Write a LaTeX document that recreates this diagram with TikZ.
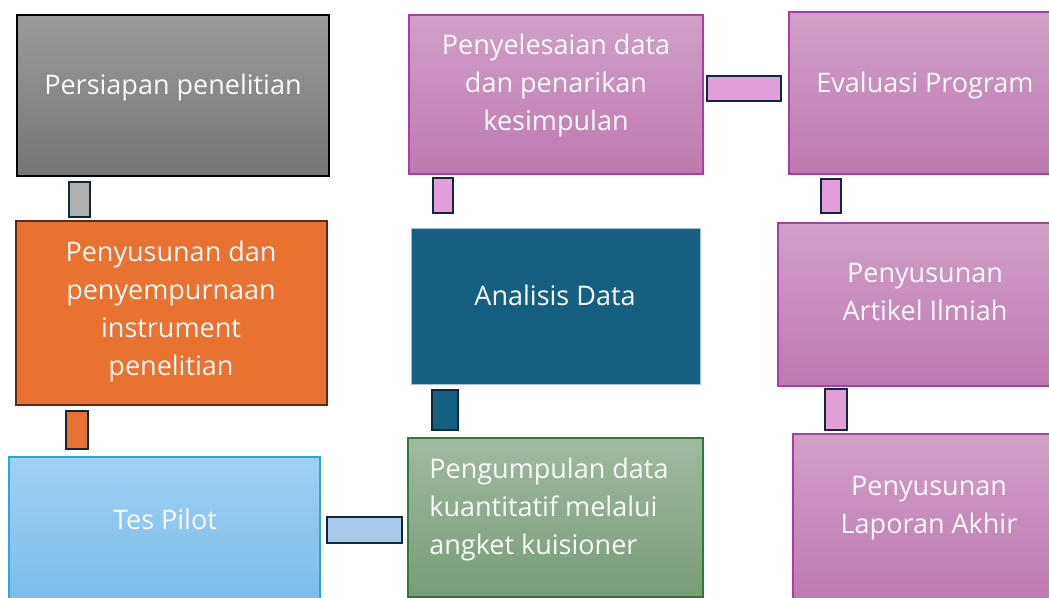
\documentclass[tikz,border=0pt]{standalone}
\usepackage{fontspec}
\setmainfont{Open Sans}
\usetikzlibrary{fit}
\definecolor{gtop}{HTML}{9B9B9B}
\definecolor{gbot}{HTML}{757575}
\definecolor{orng}{HTML}{E97132}
\definecolor{orngd}{HTML}{5E2B12}
\definecolor{btop}{HTML}{9FD1F5}
\definecolor{bbot}{HTML}{7BBCE9}
\definecolor{bbrd}{HTML}{2EA5D9}
\definecolor{grtop}{HTML}{A1B9A1}
\definecolor{grbot}{HTML}{789C78}
\definecolor{grbrd}{HTML}{2E7D32}
\definecolor{navy}{HTML}{156082}
\definecolor{navybrd}{HTML}{A8C0D0}
\definecolor{ptop}{HTML}{D19FC7}
\definecolor{pbot}{HTML}{BF79B0}
\definecolor{pbrd}{HTML}{A63FA5}
\definecolor{cbrd}{HTML}{10283A}
\definecolor{cgray}{HTML}{B0B0B0}
\definecolor{clblue}{HTML}{A6C9EC}
\definecolor{cpink}{HTML}{E29ED9}
\definecolor{txt}{HTML}{FAFAFA}
\tikzset{
  box/.style={inner sep=0pt, outer sep=0pt, line width=0.6pt},
  graybox/.style={box, draw=black, top color=gtop, bottom color=gbot},
  orangebox/.style={box, draw=orngd, fill=orng, line width=1pt},
  bluebox/.style={box, draw=bbrd, top color=btop, bottom color=bbot},
  greenbox/.style={box, draw=grbrd, top color=grtop, bottom color=grbot},
  navybox/.style={box, draw=navybrd, fill=navy, line width=0.4pt},
  pinkbox/.style={box, draw=pbrd, top color=ptop, bottom color=pbot},
  link/.style={inner sep=0pt, outer sep=0pt, draw=cbrd, line width=1.2pt},
  lbl/.style={text=txt, font=\fontsize{13.5}{19}\selectfont, align=center, inner sep=0pt},
}
\begin{document}
\begin{tikzpicture}[x=0.5pt,y=0.5pt]
\useasboundingbox (0,0) rectangle (1049,598);
\clip (0,0) rectangle (1049,598);
% boxes
\node[graybox, fit={(17,583)(329,422)}] (b1) {};
\node[orangebox, fit={(16,377)(327,193)}] (b2) {};
\node[bluebox, fit={(9,141)(320,-4)}] (b3) {};
\node[greenbox, fit={(408,160)(703,1)}] (b4) {};
\node[navybox, fit={(411,370)(700,214)}] (b5) {};
\node[pinkbox, fit={(409,583)(703,424)}] (b6) {};
\node[pinkbox, fit={(789,586)(1056,424)}] (b7) {};
\node[pinkbox, fit={(778,375)(1056,212)}] (b8) {};
\node[pinkbox, fit={(793,164)(1056,-4)}] (b9) {};
% connectors
\node[link, fill=cgray, fit={(69,416)(90,381)}] (c1) {};
\node[link, fill=orng, fit={(66,187)(88,149)}] (c2) {};
\node[link, fill=clblue, fit={(327,81)(402,55)}] (c3) {};
\node[link, fill=navy, fit={(432,208)(458,168)}] (c4) {};
\node[link, fill=cpink, fit={(433,420)(453,385)}] (c5) {};
\node[link, fill=cpink, fit={(707,522)(781,497)}] (c6) {};
\node[link, fill=cpink, fit={(821,419)(841,385)}] (c7) {};
\node[link, fill=cpink, fit={(825,209)(847,168)}] (c8) {};
% labels
\node[lbl] (t1) at (173,511) {Persiapan penelitian};
\node[lbl] (t2) at (171,286.5) {Penyusunan dan\\penyempurnaan\\instrument\\penelitian};
\node[lbl] (t3) at (165,78.5) {Tes Pilot};
\node[lbl, anchor=west, align=left] (t4) at (429,89) {Pengumpulan data\\kuantitatif melalui\\angket kuisioner};
\node[lbl] (t5) at (555,302.5) {Analisis Data};
\node[lbl] (t6) at (556,513) {Penyelesaian data\\dan penarikan\\kesimpulan};
\node[lbl] (t7) at (925,513) {Evaluasi Program};
\node[lbl] (t8) at (925,305.5) {Penyusunan\\Artikel Ilmiah};
\node[lbl] (t9) at (929,90) {Penyusunan\\Laporan Akhir};
\end{tikzpicture}
\end{document}
